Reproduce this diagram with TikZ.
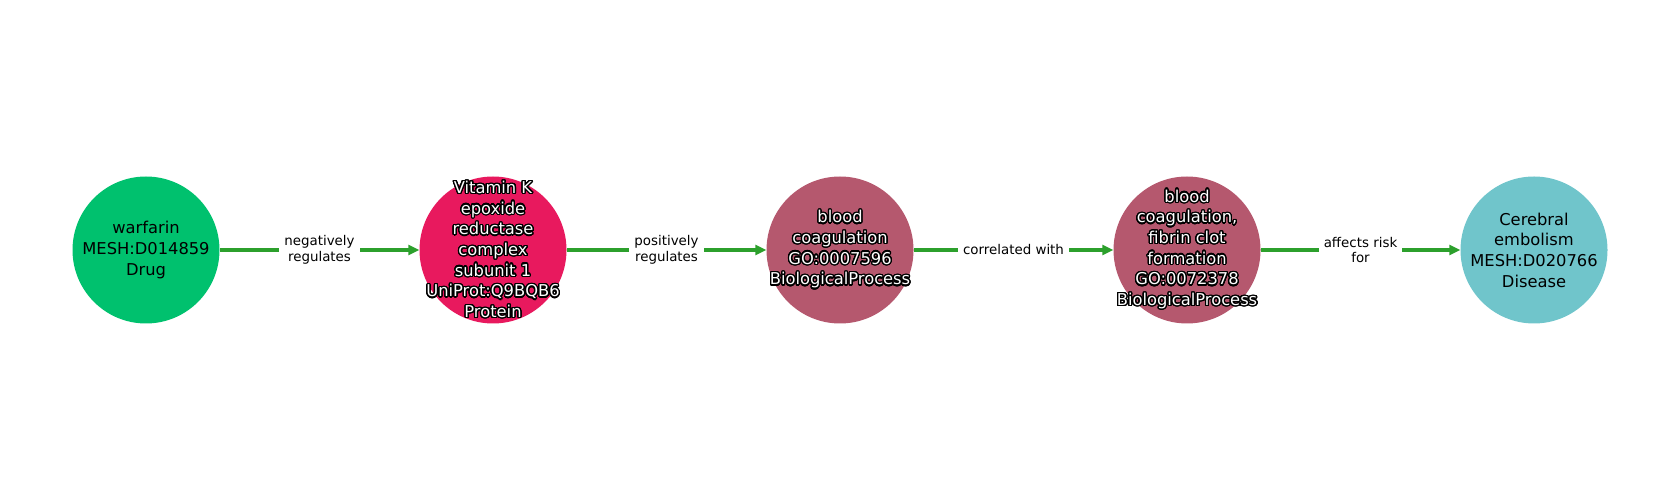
\documentclass[tikz,border=0pt]{standalone}
\usepackage{fontspec}
\setmainfont{DejaVu Sans}
\usepackage{contour}
\contourlength{1.3pt}
\contournumber{24}
\usetikzlibrary{arrows.meta}
\definecolor{drugc}{RGB}{0,193,110}
\definecolor{protc}{RGB}{232,25,94}
\definecolor{procc}{RGB}{181,88,110}
\definecolor{disc}{RGB}{112,197,203}
\definecolor{edgec}{RGB}{44,160,44}
\newcommand\ol[1]{\contour{black}{#1}}
\tikzset{
  ent/.style={circle, minimum size=147pt, inner sep=0pt, draw=none},
  ntext/.style={align=center, inner sep=0pt, font=\fontsize{16.3}{20.7}\selectfont},
  otext/.style={ntext, text=white},
  elabel/.style={fill=white, align=center, inner sep=5pt, text=black, font=\fontsize{13.4}{15.6}\selectfont},
  edge/.style={draw=edgec, line width=3.6pt, -{Triangle[length=11pt,width=10pt]}}
}
\begin{document}
\begin{tikzpicture}[x=1pt,y=1pt]
\useasboundingbox (0,0) rectangle (1680,500);
\node[ent, fill=drugc] (n1) at (146,250) {};
\node[ent, fill=protc] (n2) at (493,250) {};
\node[ent, fill=procc] (n3) at (840,250) {};
\node[ent, fill=procc] (n4) at (1187,250) {};
\node[ent, fill=disc] (n5) at (1534,250) {};
\node[ntext] (t1) at (n1.center) {warfarin\\MESH:D014859\\Drug};
\node[otext] (t2) at (n2.center) {\ol{Vitamin K}\\\ol{epoxide}\\\ol{reductase}\\\ol{complex}\\\ol{subunit 1}\\\ol{UniProt:Q9BQB6}\\\ol{Protein}};
\node[otext] (t3) at (n3.center) {\ol{blood}\\\ol{coagulation}\\\ol{GO:0007596}\\\ol{BiologicalProcess}};
\node[otext] (t4) at (n4.center) {\ol{blood}\\\ol{coagulation,}\\\ol{fibrin clot}\\\ol{formation}\\\ol{GO:0072378}\\\ol{BiologicalProcess}};
\node[ntext] (t5) at (n5.center) {Cerebral\\embolism\\MESH:D020766\\Disease};
\draw[edge] (n1) -- node[elabel] (l1) {negatively\\regulates} (n2);
\draw[edge] (n2) -- node[elabel] (l2) {positively\\regulates} (n3);
\draw[edge] (n3) -- node[elabel] (l3) {correlated with} (n4);
\draw[edge] (n4) -- node[elabel] (l4) {affects risk\\for} (n5);
\end{tikzpicture}
\end{document}
